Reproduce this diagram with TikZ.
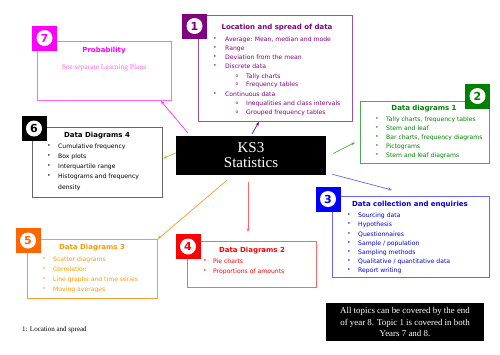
\documentclass[tikz,border=0pt]{standalone}
\usepackage{fontspec}
\setmainfont{Liberation Serif}
\newfontfamily\comic{DejaVu Sans}
\usetikzlibrary{arrows.meta,calc}
\definecolor{cSeven}{HTML}{FF00FF}
\definecolor{cSevenB}{HTML}{FF66FF}
\definecolor{cOne}{HTML}{800080}
\definecolor{cOneB}{HTML}{A050A0}
\definecolor{cTwo}{HTML}{008000}
\definecolor{cTwoB}{HTML}{50A850}
\definecolor{cThree}{HTML}{0000FF}
\definecolor{cThreeB}{HTML}{6666FF}
\definecolor{cThreeT}{HTML}{0000DD}
\definecolor{cFour}{HTML}{FF0000}
\definecolor{cFourB}{HTML}{FF6666}
\definecolor{cFive}{HTML}{FF6600}
\definecolor{cFiveB}{HTML}{FF9933}
\definecolor{cFiveT}{HTML}{FF9900}
\definecolor{cSix}{HTML}{000000}
\definecolor{cSixB}{HTML}{666666}
\definecolor{cSixA}{HTML}{99CC33}
\tikzset{
  topicbox/.style={draw, line width=0.9pt, minimum width=#1, anchor=north west, inner sep=0pt},
  numsq/.style={fill=#1, minimum size=25pt, inner sep=0pt},
  numcirc/.style={circle, fill=white, inner sep=0pt, minimum size=16pt, text=#1,
     font=\comic\bfseries\fontsize{11}{11}\selectfont},
  ttl/.style={font=\comic\bfseries\fontsize{7}{7}\selectfont, inner sep=0pt},
  itm/.style={font=\comic\fontsize{6.1}{7}\selectfont, anchor=mid west, inner sep=0pt},
  bul/.style={font=\comic\fontsize{5.5}{6}\selectfont, anchor=center, inner sep=0pt},
  conn/.style={line width=0.7pt, -{Stealth[length=4pt,width=3pt]}},
}
\begin{document}
\begin{tikzpicture}[x=1pt,y=-1pt]
\useasboundingbox (0,0) rectangle (500,354);
% central box
\node[fill=black, minimum width=150pt, minimum height=39pt, inner sep=0pt, text=white, align=center,
  font=\fontsize{15}{15}\selectfont] (c) at (251,155.5) {KS3\\Statistics};

% boxes
\node[topicbox=134pt, minimum height=59pt, draw=cSevenB] (b7) at (37,41) {};
\node[topicbox=154pt, minimum height=106pt, draw=cOneB] (b1) at (198,15) {};
\node[topicbox=129pt, minimum height=62pt, draw=cTwoB] (b2) at (360,101) {};
\node[topicbox=157pt, minimum height=81pt, draw=cThreeB] (b3) at (332,196) {};
\node[topicbox=129pt, minimum height=46pt, draw=cFourB] (b4) at (187,241) {};
\node[topicbox=130pt, minimum height=59pt, draw=cFiveB] (b5) at (27,239) {};
\node[topicbox=130pt, minimum height=70pt, draw=cSixB] (b6) at (32,127) {};

% number squares
\node[numsq=cSeven] (s7) at (44.5,38) {};
\node[numcirc=cSeven] (n7) at (s7) {7};
\node[numsq=cOne] (s1) at (194.5,26) {};
\node[numcirc=cOne] (n1) at (s1) {1};
\node[numsq=cTwo] (s2) at (477.5,96) {};
\node[numcirc=cTwo] (n2) at (s2) {2};
\node[numsq=cThree] (s3) at (328,199) {};
\node[numcirc=cThree] (n3) at (s3) {3};
\node[numsq=cFour] (s4) at (188,246.5) {};
\node[numcirc=cFour] (n4) at (s4) {4};
\node[numsq=cFive] (s5) at (28,240.5) {};
\node[numcirc=cFive] (n5) at (s5) {5};
\node[numsq=cSix] (s6) at (34,128.5) {};
\node[numcirc=cSix] (n6) at (s6) {6};

% box 7
\node[ttl, text=cSeven] (t7) at (104,51) {Probability};
\node[font=\fontsize{7.5}{8}\selectfont, text=cSevenB, inner sep=0pt] (t7a) at (104,68) {See separate Learning Plans};

% box 1
\node[ttl, text=cOne] (t1) at (277,28) {Location and spread of data};
\foreach \y/\t [count=\i] in {39/{Average: Mean, median and mode},48/{Range},57/{Deviation from the mean},66/{Discrete data},94/{Continuous data}}{
  \node[bul, text=cOne] (b1b\i) at (215,\y) {•};
  \node[itm, text=cOne] (b1i\i) at (225,\y) {\t};
}
\foreach \y/\t [count=\i] in {76/{Tally charts},84/{Frequency tables},103/{Inequalities and class intervals},112/{Grouped frequency tables}}{
  \node[bul, text=cOne] (b1o\i) at (237,\y) {\fontsize{4.5}{5}\selectfont o};
  \node[itm, text=cOne] (b1s\i) at (246,\y) {\t};
}

% box 2
\node[ttl, text=cTwo] (t2) at (424,109) {Data diagrams 1};
\foreach \y/\t [count=\i] in {119/{Tally charts, frequency tables},128/{Stem and leaf},137/{Bar charts, frequency diagrams},146/{Pictograms},155/{Stem and leaf diagrams}}{
  \node[bul, text=cTwo] (b2b\i) at (377,\y) {•};
  \node[itm, text=cTwo] (b2i\i) at (386,\y) {\t};
}

% box 3
\node[ttl, text=cThreeT] (t3) at (410,205) {Data collection and enquiries};
\foreach \y/\t [count=\i] in {215/{Sourcing data},224/{Hypothesis},234/{Questionnaires},243/{Sample / population},252/{Sampling methods},261/{Qualitative / quantitative data},270/{Report writing}}{
  \node[bul, text=cThreeT] (b3b\i) at (349,\y) {•};
  \node[itm, text=cThreeT] (b3i\i) at (358,\y) {\t};
}

% box 4
\node[ttl, text=cFour] (t4) at (252,251) {Data Diagrams 2};
\foreach \y/\t [count=\i] in {261/{Pie charts},271/{Proportions of amounts}}{
  \node[bul, text=cFour] (b4b\i) at (205,\y) {•};
  \node[itm, text=cFour] (b4i\i) at (213,\y) {\t};
}

% box 5
\node[ttl, text=cFiveT] (t5) at (92,248) {Data Diagrams 3};
\foreach \y/\t [count=\i] in {259/{Scatter diagrams},269/{Correlation},279/{Line graphs and time series},289/{Moving averages}}{
  \node[bul, text=cFiveT] (b5b\i) at (44,\y) {•};
  \node[itm, text=cFiveT] (b5i\i) at (53,\y) {\t};
}

% box 6
\node[ttl, text=black] (t6) at (97,136) {Data Diagrams 4};
\foreach \y/\t [count=\i] in {146/{Cumulative frequency},156/{Box plots},166/{Interquartile range},176/{Histograms and frequency}}{
  \node[bul, text=black] (b6b\i) at (49,\y) {•};
  \node[itm, text=black] (b6i\i) at (58,\y) {\t};
}
\node[itm, text=black] (b6i5) at (58,187) {density};

% connectors
\draw[conn, draw=cSeven!80] ($(c.north west)+(12,-3)$) -- ($(b7.south east)+(-11,0)$);
\draw[conn, draw=cOne] ($(c.north)+(1,-2)$) -- ($(b1.south west)+(61,0)$);
\draw[conn, draw=cTwoB] ($(c.east)+(7,-2)$) -- ($(b2.west)+(-5,10)$);
\draw[conn, draw=cThreeB] ($(c.south east)+(6,-1)$) -- ($(b3.north west)+(60,-6)$);
\draw[conn, draw=cFourB] ($(c.south)+(-3,7)$) -- ($(b4.north west)+(61,-9)$);
\draw[conn, draw=cFiveB] ($(c.south)+(-24,5)$) -- (b5.north east);
\draw[conn, draw=cSixA] ($(c.west)+(0,-2.5)$) -- ($(b6.east)+(0,-4)$);

% note box
\node[fill=black, minimum width=158pt, minimum height=38pt, inner sep=0pt, text=white, align=center,
  font=\fontsize{8.9}{11.5}\selectfont] (note) at (405,322) {All topics can be covered by the end\\of year 8. Topic 1 is covered in both\\Years 7 and 8.};

\node[font=\fontsize{7}{8}\selectfont, anchor=mid west, inner sep=0pt] (foot) at (22,329) {1: Location and spread};
\end{tikzpicture}
\end{document}
